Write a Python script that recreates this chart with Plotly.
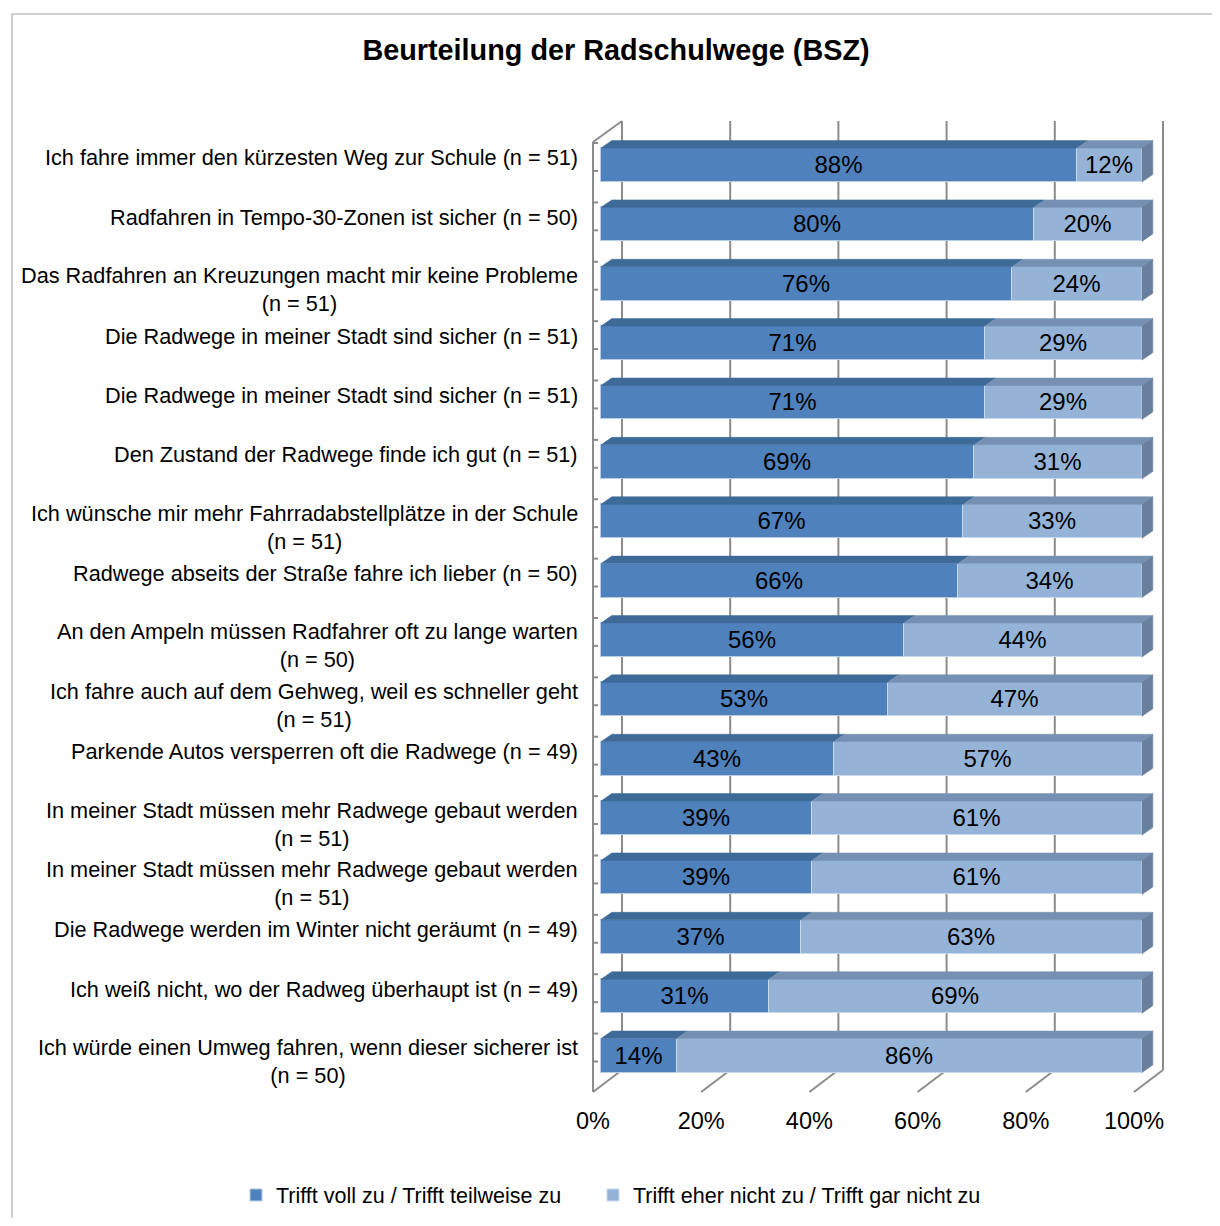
import plotly.graph_objects as go

categories = [
    "Ich fahre immer den kürzesten Weg zur Schule (n = 51)",
    "Radfahren in Tempo-30-Zonen ist sicher (n = 50)",
    "Das Radfahren an Kreuzungen macht mir keine Probleme<br>(n = 51)",
    "Die Radwege in meiner Stadt sind sicher (n = 51)",
    "Die Radwege in meiner Stadt sind sicher (n = 51)",
    "Den Zustand der Radwege finde ich gut (n = 51)",
    "Ich wünsche mir mehr Fahrradabstellplätze in der Schule<br>(n = 51)",
    "Radwege abseits der Straße fahre ich lieber (n = 50)",
    "An den Ampeln müssen Radfahrer oft zu lange warten<br>(n = 50)",
    "Ich fahre auch auf dem Gehweg, weil es schneller geht<br>(n = 51)",
    "Parkende Autos versperren oft die Radwege (n = 49)",
    "In meiner Stadt müssen mehr Radwege gebaut werden<br>(n = 51)",
    "In meiner Stadt müssen mehr Radwege gebaut werden<br>(n = 51)",
    "Die Radwege werden im Winter nicht geräumt (n = 49)",
    "Ich weiß nicht, wo der Radweg überhaupt ist (n = 49)",
    "Ich würde einen Umweg fahren, wenn dieser sicherer ist<br>(n = 50)",
]
agree = [88, 80, 76, 71, 71, 69, 67, 66, 56, 53, 43, 39, 39, 37, 31, 14]
disagree = [12, 20, 24, 29, 29, 31, 33, 34, 44, 47, 57, 61, 61, 63, 69, 86]
series_names = ["Trifft voll zu / Trifft teilweise zu",
                "Trifft eher nicht zu / Trifft gar nicht zu"]
tick_values = [0, 20, 40, 60, 80, 100]
tick_labels = ["0%", "20%", "40%", "60%", "80%", "100%"]
title_text = "Beurteilung der Radschulwege (BSZ)"

FONT = "Liberation Sans, Arial, sans-serif"
C_DARK = "#4F81BD"
C_LIGHT = "#95B3D7"
C_DARK_TOP = "#3D6A97"
C_LIGHT_TOP = "#7590B2"
C_SIDE = "#687F9D"
C_WALL = "#8C8C8C"

# figure is 1204x1210 (page body has 8px margin)
W, H = 1204, 1210
PL, PW = 577, 590          # plot area left / width (px)
PT, PB = 92, 1092          # plot area top / bottom (px)
X0PX, PXPCT = 593, 5.41    # px of 0 % on bar front, px per %
R0PX, PXROW = 157, 59.37   # px of first row centre, px per row

rows = list(range(len(categories)))
BAR_W = 0.573
DX = 2.0     # depth offset in % units
DY = 0.126   # depth offset in row units
BACK = 3.88  # back wall offset in % units
FRONT = -1.48  # floor front offset in % units
Y_TOP_BACK, Y_TOP_FRONT = -0.741, -0.387
Y_BOT_BACK, Y_BOT_FRONT = 15.243, 15.614

fig = go.Figure()

for vals, name, col, edge, lg in [(agree, series_names[0], C_DARK, "#B8CCE4", "legend"),
                                  (disagree, series_names[1], C_LIGHT, "#C9D9EC", "legend2")]:
    fig.add_trace(go.Bar(
        y=rows, x=vals, orientation="h", name=name, width=BAR_W, legend=lg,
        marker=dict(color=col, line=dict(color=edge, width=1)),
        text=[f"{v}%" for v in vals], textposition="inside", insidetextanchor="middle",
        constraintext="none", textangle=0,
        textfont=dict(family=FONT, size=24, color="black"), hoverinfo="skip"))

# 3D top faces and side faces computed from the data
def top_poly(x0, x1, r):
    yt = r - BAR_W / 2
    return [x0, x1, x1 + DX, x0 + DX, x0, None], [yt, yt, yt - DY, yt - DY, yt, None]

dx_, dy_, lx_, ly_, sx_, sy_ = [], [], [], [], [], []
for r, a, d in zip(rows, agree, disagree):
    px, py = top_poly(0, a, r)
    dx_ += px; dy_ += py
    px, py = top_poly(a, a + d, r)
    lx_ += px; ly_ += py
    e = a + d
    yt, yb = r - BAR_W / 2, r + BAR_W / 2
    sx_ += [e, e + DX, e + DX, e, e, None]
    sy_ += [yt, yt - DY, yb - DY, yb, yt, None]

for xs, ys, col in [(dx_, dy_, C_DARK_TOP), (lx_, ly_, C_LIGHT_TOP), (sx_, sy_, C_SIDE)]:
    fig.add_trace(go.Scatter(x=xs, y=ys, mode="lines", fill="toself", fillcolor=col,
                             line=dict(color=col, width=0.5), showlegend=False,
                             hoverinfo="skip"))

# walls / gridlines as shapes below the traces
shapes = []
line = dict(color=C_WALL, width=2)
def seg(x0, y0, x1, y1):
    shapes.append(dict(type="line", xref="x", yref="y", layer="below",
                       x0=x0, y0=y0, x1=x1, y1=y1, line=line))
for k in tick_values:
    seg(k + BACK, Y_TOP_BACK, k + BACK, Y_BOT_BACK)
    seg(k + FRONT, Y_BOT_FRONT, k + BACK, Y_BOT_BACK)
seg(FRONT, Y_TOP_FRONT, FRONT, Y_BOT_FRONT)
seg(FRONT, Y_TOP_FRONT, BACK, Y_TOP_BACK)
for r in rows:
    for off in (-0.37, 0.10):
        seg(FRONT, r + off, FRONT + 0.95, r + off)
# outer chart border
shapes.append(dict(type="rect", xref="paper", yref="paper", layer="below",
                   x0=(4 - PL) / PW, x1=1.2, y0=-0.2, y1=(PB - 6) / (PB - PT),
                   line=dict(color="#C0C0C0", width=1.5)))

annotations = []
for r, c in zip(rows, categories):
    two = "<br>" in c
    annotations.append(dict(x=(572 - PL) / PW, y=r + (0.1 if two else -0.118),
                            xref="paper", yref="y",
                            text=c, showarrow=False, xanchor="right", yanchor="middle",
                            align="center", font=dict(family=FONT, size=21.7, color="black")))

legend_common = dict(orientation="h", xanchor="left", yanchor="middle",
                     y=(PB - 1187) / (PB - PT), bgcolor="rgba(0,0,0,0)",
                     font=dict(family=FONT, size=21.5, color="black"), itemclick=False)

fig.update_layout(
    width=W, height=H,
    margin=dict(l=PL, r=W - PL - PW, t=PT, b=H - PB, autoexpand=False),
    paper_bgcolor="white", plot_bgcolor="rgba(0,0,0,0)",
    barmode="stack", bargap=0,
    title=dict(text="<b>" + title_text + "</b>", x=608 / W, xref="container",
               y=1 - 42 / H, yref="container", xanchor="center", yanchor="middle",
               font=dict(family=FONT, size=28.8, color="black")),
    xaxis=dict(range=[(PL - X0PX) / PXPCT, (PL + PW - X0PX) / PXPCT], showgrid=False,
               zeroline=False, showline=False, tickvals=[v + FRONT for v in tick_values],
               ticktext=tick_labels, ticks="", ticklabelstandoff=4, automargin=False,
               tickfont=dict(family=FONT, size=23.5, color="black")),
    yaxis=dict(range=[(PB - R0PX) / PXROW, (PT - R0PX) / PXROW], showgrid=False,
               zeroline=False, showline=False, showticklabels=False, ticks="",
               automargin=False),
    shapes=shapes, annotations=annotations,
    legend=dict(x=(228 - PL) / PW, **legend_common),
    legend2=dict(x=(585 - PL) / PW, **legend_common),
    showlegend=True,
)

fig.write_html("out.html")
